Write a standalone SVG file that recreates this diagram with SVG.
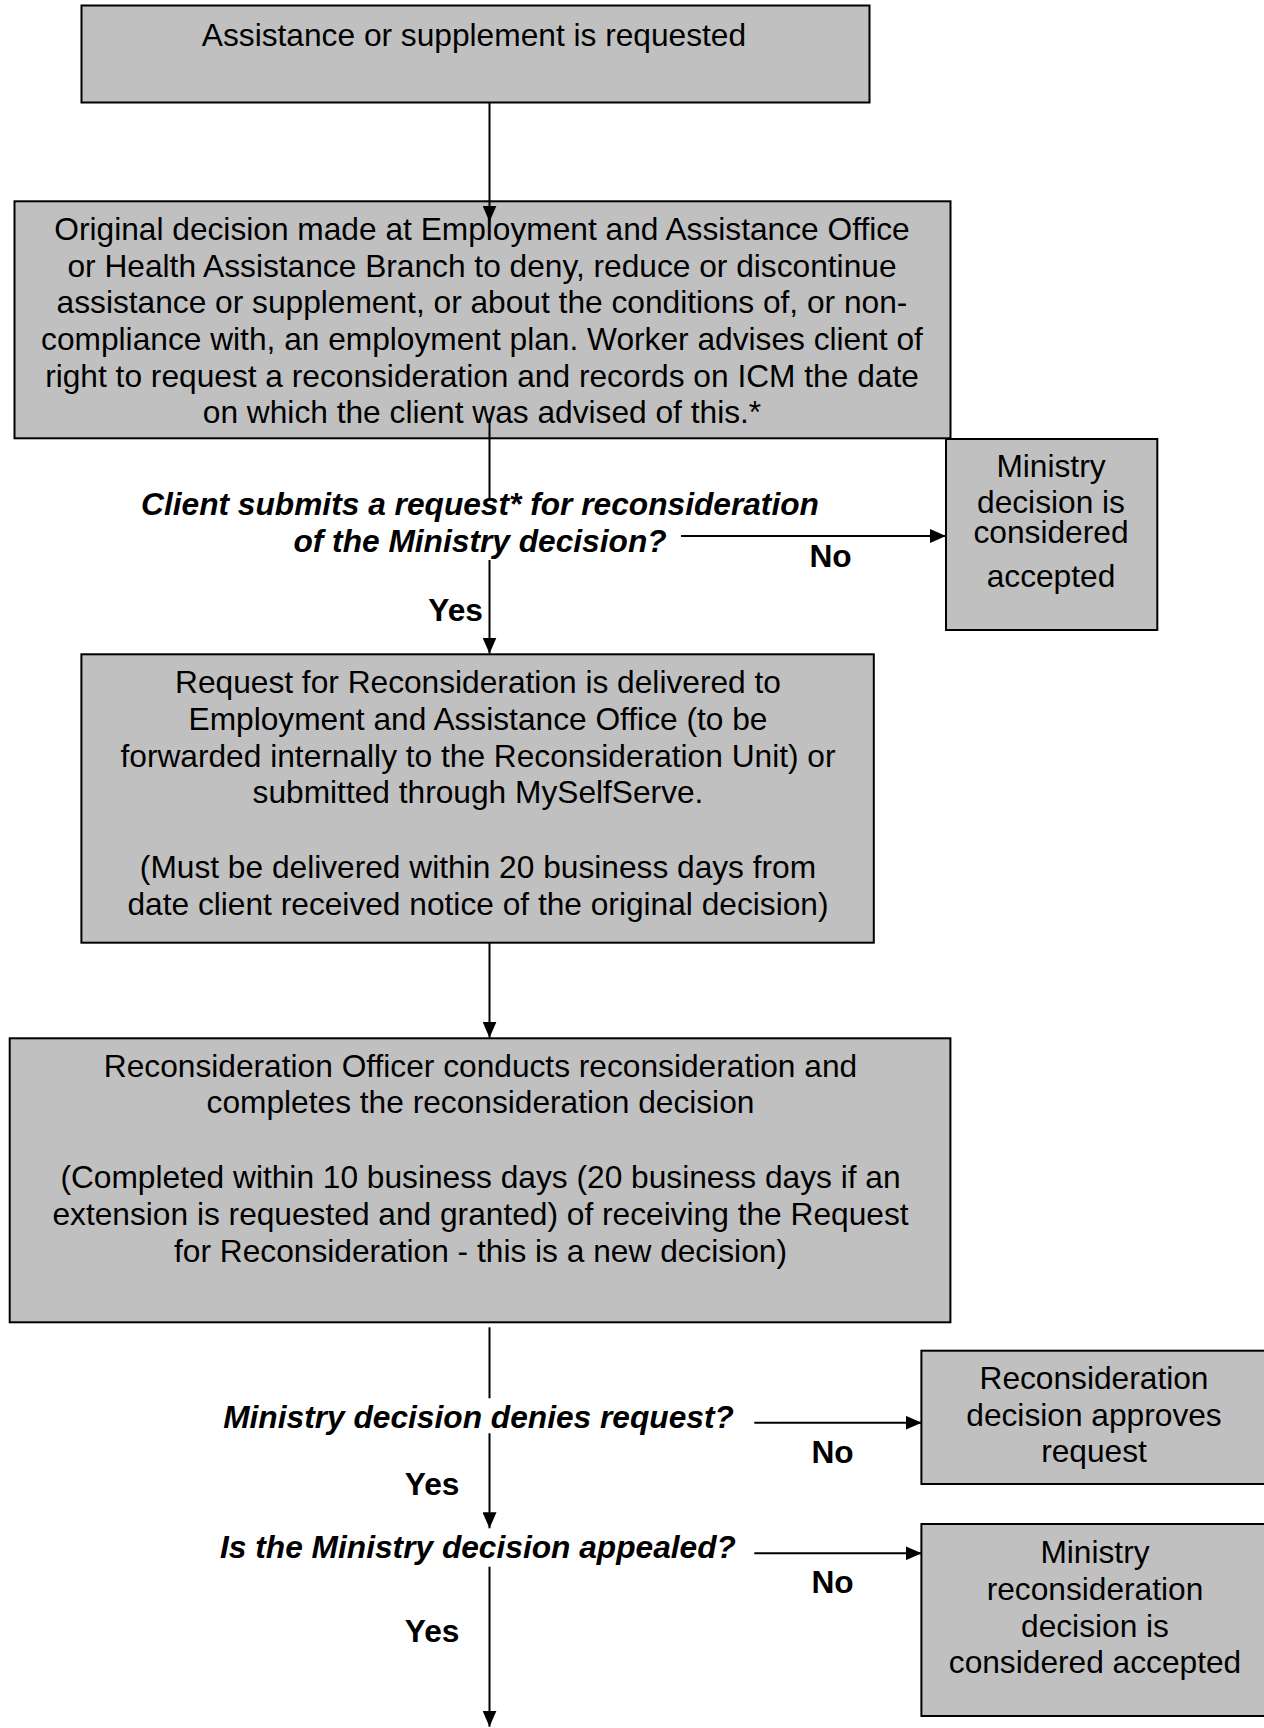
<svg xmlns="http://www.w3.org/2000/svg" width="1264" height="1728" viewBox="0 0 1264 1728">
<style>
.box{fill:#c0c0c0;stroke:#000;stroke-width:2}
.t{font-family:"Liberation Sans",Arial,sans-serif;font-size:31.7px;fill:#000;text-anchor:middle}
.q{font-family:"Liberation Sans",Arial,sans-serif;font-size:31.7px;fill:#000;text-anchor:middle;font-weight:bold;font-style:italic}
.l{font-family:"Liberation Sans",Arial,sans-serif;font-size:31.7px;fill:#000;font-weight:bold}
.c{stroke:#000;stroke-width:2;fill:none}
</style>
<defs>
<marker id="ah" viewBox="0 0 16 14" refX="16" refY="7" markerWidth="16" markerHeight="14" markerUnits="userSpaceOnUse" orient="auto">
<path d="M0,0 L16,7 L0,14 z" fill="#000"/>
</marker>
</defs>
<rect x="0" y="0" width="1264" height="1728" fill="#fff"/>
<g id="n1">
<rect class="box" x="81.5" y="5.5" width="788" height="97"/>
<text class="t" x="474" y="46">Assistance or supplement is requested</text>
</g>
<g id="n2">
<rect class="box" x="14.5" y="201.3" width="936" height="237"/>
<text class="t" x="482"><tspan x="482" y="240">Original decision made at Employment and Assistance Office</tspan><tspan x="482" y="276.7">or Health Assistance Branch to deny, reduce or discontinue</tspan><tspan x="482" y="313.3">assistance or supplement, or about the conditions of, or non-</tspan><tspan x="482" y="350">compliance with, an employment plan. Worker advises client of</tspan><tspan x="482" y="386.7">right to request a reconsideration and records on ICM the date</tspan><tspan x="482" y="423.3">on which the client was advised of this.*</tspan></text>
</g>
<g id="n3">
<rect class="box" x="946" y="439" width="211.3" height="191"/>
<text class="t"><tspan x="1051" y="476.7">Ministry</tspan><tspan x="1051" y="513.3">decision is</tspan><tspan x="1051" y="543.3">considered</tspan><tspan x="1051" y="586.7">accepted</tspan></text>
</g>
<g id="q1">
<text class="q"><tspan x="480" y="515">Client submits a request* for reconsideration</tspan><tspan x="480" y="551.7">of the Ministry decision?</tspan></text>
</g>
<g id="n4">
<rect class="box" x="81.4" y="654.3" width="792.4" height="288.4"/>
<text class="t"><tspan x="478" y="693.3">Request for Reconsideration is delivered to</tspan><tspan x="478" y="730">Employment and Assistance Office (to be</tspan><tspan x="478" y="766.7">forwarded internally to the Reconsideration Unit) or</tspan><tspan x="478" y="803.3">submitted through MySelfServe.</tspan><tspan x="478" y="878.3">(Must be delivered within 20 business days from</tspan><tspan x="478" y="915">date client received notice of the original decision)</tspan></text>
</g>
<g id="n5">
<rect class="box" x="9.7" y="1038.3" width="940.7" height="284"/>
<text class="t"><tspan x="480.5" y="1076.7">Reconsideration Officer conducts reconsideration and</tspan><tspan x="480.5" y="1113.3">completes the reconsideration decision</tspan><tspan x="480.5" y="1188.3">(Completed within 10 business days (20 business days if an</tspan><tspan x="480.5" y="1225">extension is requested and granted) of receiving the Request</tspan><tspan x="480.5" y="1261.7">for Reconsideration - this is a new decision)</tspan></text>
</g>
<g id="q2">
<text class="q" x="478.5" y="1428.3">Ministry decision denies request?</text>
</g>
<g id="n6">
<rect class="box" x="921.4" y="1350.7" width="350" height="133.3"/>
<text class="t"><tspan x="1094" y="1389.3">Reconsideration</tspan><tspan x="1094" y="1426">decision approves</tspan><tspan x="1094" y="1461.7">request</tspan></text>
</g>
<g id="q3">
<text class="q" x="478" y="1558.3">Is the Ministry decision appealed?</text>
</g>
<g id="n7">
<rect class="box" x="921.4" y="1524" width="350" height="192"/>
<text class="t"><tspan x="1095" y="1563.3">Ministry</tspan><tspan x="1095" y="1600">reconsideration</tspan><tspan x="1095" y="1636.7">decision is</tspan><tspan x="1095" y="1673.3">considered accepted</tspan></text>
</g>
<g id="connectors">
<line class="c" x1="489.5" y1="102.7" x2="489.5" y2="221.7" marker-end="url(#ah)"/>
<line class="c" x1="489.5" y1="418" x2="489.5" y2="500"/>
<line class="c" x1="489.5" y1="560" x2="489.5" y2="653.5" marker-end="url(#ah)"/>
<line class="c" x1="681" y1="536" x2="946" y2="536" stroke-width="2.5" marker-end="url(#ah)"/>
<line class="c" x1="489.5" y1="942.7" x2="489.5" y2="1037.7" marker-end="url(#ah)"/>
<line class="c" x1="489.5" y1="1327.3" x2="489.5" y2="1398.3"/>
<line class="c" x1="489.5" y1="1433.3" x2="489.5" y2="1528.3" marker-end="url(#ah)"/>
<line class="c" x1="754.3" y1="1422.7" x2="921.7" y2="1422.7" marker-end="url(#ah)"/>
<line class="c" x1="489.5" y1="1566.7" x2="489.5" y2="1726.7" marker-end="url(#ah)"/>
<line class="c" x1="754.3" y1="1553.3" x2="921.7" y2="1553.3" marker-end="url(#ah)"/>
<text class="l" x="483" y="620.7" text-anchor="end">Yes</text>
<text class="l" x="830.5" y="566.7" text-anchor="middle">No</text>
<text class="l" x="459.5" y="1495" text-anchor="end">Yes</text>
<text class="l" x="832.5" y="1463.3" text-anchor="middle">No</text>
<text class="l" x="459.5" y="1641.7" text-anchor="end">Yes</text>
<text class="l" x="832.5" y="1593.3" text-anchor="middle">No</text>
</g>
</svg>
